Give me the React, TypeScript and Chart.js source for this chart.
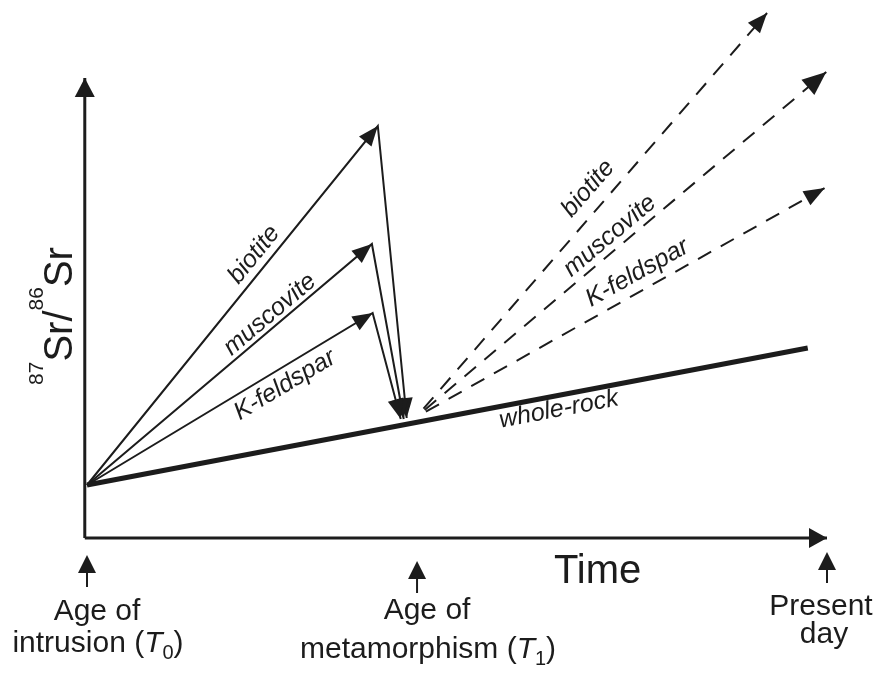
import React, { useEffect, useRef } from "react";
import { Chart, registerables } from "chart.js";

Chart.register(...registerables);

// Time axis: 0 = age of intrusion (T0), 100 = present day. Ratio axis in arbitrary units.
const timeAxis = [{ x: -0.3, y: 0 }, { x: 100, y: 0 }];
const ratioAxis = [{ x: -0.3, y: 0 }, { x: -0.3, y: 92 }];
const wholeRock = [{ x: 0, y: 10.6 }, { x: 97.4, y: 38.0 }];
const biotiteClosed = [{ x: 0, y: 10.6 }, { x: 39.3, y: 82.4 }, { x: 43.2, y: 24.0 }];
const muscoviteClosed = [{ x: 0, y: 10.6 }, { x: 38.5, y: 58.8 }, { x: 42.8, y: 23.8 }];
const kfeldsparClosed = [{ x: 0, y: 10.6 }, { x: 38.6, y: 45.0 }, { x: 42.4, y: 23.8 }];
const biotiteReset = [{ x: 44.5, y: 24.2 }, { x: 91.9, y: 105.0 }];
const muscoviteReset = [{ x: 44.5, y: 24.2 }, { x: 99.9, y: 93.2 }];
const kfeldsparReset = [{ x: 44.5, y: 24.2 }, { x: 99.7, y: 70.0 }];

const markerTimes = [0, 44.6, 100];
const markerLabels = [
  ["Age of", "intrusion (T0)"],
  ["Age of", "metamorphism (T1)"],
  ["Present", "day"],
];
const xTitle = "Time";

const FONT = "'Liberation Sans', Arial, Helvetica, sans-serif";
const INK = "#1c1c1c";

type Part = { text: string; font: string; dy?: number };

function drawParts(ctx: CanvasRenderingContext2D, parts: Part[], cx: number, baseline: number) {
  let total = 0;
  for (const p of parts) {
    ctx.font = p.font;
    total += ctx.measureText(p.text).width;
  }
  let x = cx - total / 2;
  ctx.textAlign = "left";
  ctx.textBaseline = "alphabetic";
  for (const p of parts) {
    ctx.font = p.font;
    ctx.fillText(p.text, x, baseline + (p.dy || 0));
    x += ctx.measureText(p.text).width;
  }
}

function labelParts(line: string, size: number): Part[] {
  const m = line.match(/^(.*)\(T(\d)\)$/);
  if (!m) return [{ text: line, font: `${size}px ${FONT}` }];
  return [
    { text: m[1] + "(", font: `${size}px ${FONT}` },
    { text: "T", font: `italic ${size}px ${FONT}` },
    { text: m[2], font: `${Math.round(size * 0.68)}px ${FONT}`, dy: 7 },
    { text: ")", font: `${size}px ${FONT}` },
  ];
}

const arrowPlugin = {
  id: "arrowHeads",
  afterDatasetsDraw(chart: any) {
    const ctx = chart.ctx;
    chart.data.datasets.forEach((ds: any, i: number) => {
      if (!ds.arrowAt) return;
      const pts = chart.getDatasetMeta(i).data;
      const L = ds.arrowLen || 18;
      const W = ds.arrowHalf || 7;
      ds.arrowAt.forEach((k: number) => {
        const a = pts[k - 1], b = pts[k];
        const ang = Math.atan2(b.y - a.y, b.x - a.x);
        const c = Math.cos(ang), s = Math.sin(ang);
        ctx.save();
        ctx.fillStyle = INK;
        ctx.beginPath();
        ctx.moveTo(b.x, b.y);
        ctx.lineTo(b.x - L * c - W * s, b.y - L * s + W * c);
        ctx.lineTo(b.x - L * c + W * s, b.y - L * s - W * c);
        ctx.closePath();
        ctx.fill();
        ctx.restore();
      });
    });
  },
};

const lineLabelPlugin = {
  id: "lineLabels",
  afterDatasetsDraw(chart: any) {
    const ctx = chart.ctx;
    chart.data.datasets.forEach((ds: any, i: number) => {
      if (!ds.labelPos) return;
      const pts = chart.getDatasetMeta(i).data;
      const { seg, t, off } = ds.labelPos;
      const a = pts[seg], b = pts[seg + 1];
      const ang = Math.atan2(b.y - a.y, b.x - a.x);
      const x = a.x + t * (b.x - a.x) + off * Math.sin(ang);
      const y = a.y + t * (b.y - a.y) - off * Math.cos(ang);
      ctx.save();
      ctx.translate(x, y);
      ctx.rotate(ang);
      ctx.fillStyle = INK;
      ctx.font = `italic 25px ${FONT}`;
      ctx.textAlign = "center";
      ctx.textBaseline = "middle";
      ctx.fillText(ds.label, 0, 0);
      ctx.restore();
    });
  },
};

const annotationPlugin = {
  id: "annotations",
  afterDraw(chart: any) {
    const ctx = chart.ctx;
    const xs = chart.scales.x;
    const ys = chart.scales.y;
    const axisY = ys.getPixelForValue(0);
    ctx.save();
    ctx.fillStyle = INK;
    ctx.strokeStyle = INK;

    // time markers with arrows
    const tipOff = [17, 23, 14];
    const tailOff = [49, 55, 45];
    const base1 = [620, 619, 615];
    const base2 = [652, 658, 643];
    const sizes = [30, 30, 30];
    markerTimes.forEach((tv, i) => {
      const px = xs.getPixelForValue(tv);
      const tip = axisY + tipOff[i];
      const tail = axisY + tailOff[i];
      ctx.lineWidth = 2;
      ctx.beginPath();
      ctx.moveTo(px, tip + 10);
      ctx.lineTo(px, tail);
      ctx.stroke();
      ctx.beginPath();
      ctx.moveTo(px, tip);
      ctx.lineTo(px - 9, tip + 18);
      ctx.lineTo(px + 9, tip + 18);
      ctx.closePath();
      ctx.fill();
      const lines = markerLabels[i];
      drawParts(ctx, labelParts(lines[0], sizes[i]), px + (i === 2 ? -6 : 10), base1[i]);
      drawParts(ctx, labelParts(lines[1], sizes[i]), px + (i === 2 ? -3 : 11), base2[i]);
    });

    // x title
    ctx.font = `40px ${FONT}`;
    ctx.textAlign = "center";
    ctx.textBaseline = "alphabetic";
    ctx.fillText(xTitle, xs.getPixelForValue(69.0), 583);

    // y title: 87Sr/86Sr rotated
    const parts: Part[] = [
      { text: "87", font: `21px ${FONT}`, dy: -29 },
      { text: "Sr/", font: `40px ${FONT}` },
      { text: "86", font: `21px ${FONT}`, dy: -29 },
      { text: "Sr", font: `40px ${FONT}` },
    ];
    ctx.save();
    ctx.translate(72, 316);
    ctx.rotate(-Math.PI / 2);
    drawParts(ctx, parts, 0, 0);
    ctx.restore();
    ctx.restore();
  },
};

export default function App() {
  const ref = useRef<HTMLCanvasElement | null>(null);
  useEffect(() => {
    if (!ref.current) return;
    const solid = (label: string, data: any[], extra: any) => ({
      label,
      data,
      showLine: true,
      borderColor: INK,
      borderWidth: 2,
      pointRadius: 0,
      clip: false,
      ...extra,
    });
    const chart = new Chart(ref.current, {
      type: "scatter",
      data: {
        datasets: [
          solid("timeAxis", timeAxis, { borderWidth: 3, arrowAt: [1], arrowLen: 18, arrowHalf: 10 }),
          solid("ratioAxis", ratioAxis, { borderWidth: 3, arrowAt: [1], arrowLen: 19, arrowHalf: 10 }),
          solid("whole-rock", wholeRock, { borderWidth: 5, labelPos: { seg: 0, t: 0.651, off: -14 } }),
          solid("biotite", biotiteClosed, { arrowAt: [1, 2], arrowLen: 20, arrowHalf: 8, labelPos: { seg: 0, t: 0.615, off: 15 } }),
          solid("muscovite", muscoviteClosed, { arrowAt: [1, 2], arrowLen: 20, arrowHalf: 8, labelPos: { seg: 0, t: 0.669, off: 12 } }),
          solid("K-feldspar", kfeldsparClosed, { arrowAt: [1, 2], arrowLen: 20, arrowHalf: 8, labelPos: { seg: 0, t: 0.663, off: -16.5 } }),
          solid("biotite", biotiteReset, { borderDash: [15, 11], borderDashOffset: 15, arrowAt: [1], arrowLen: 20, arrowHalf: 8, labelPos: { seg: 0, t: 0.533, off: 20 } }),
          solid("muscovite", muscoviteReset, { borderDash: [15, 11], borderDashOffset: 15, arrowAt: [1], arrowLen: 24, arrowHalf: 10, labelPos: { seg: 0, t: 0.494, off: 14 } }),
          solid("K-feldspar", kfeldsparReset, { borderDash: [15, 11], borderDashOffset: 15, arrowAt: [1], arrowLen: 21, arrowHalf: 8, labelPos: { seg: 0, t: 0.562, off: 17.5 } }),
        ],
      },
      options: {
        responsive: false,
        devicePixelRatio: 1,
        animation: false,
        events: [],
        layout: { padding: { left: 87, right: 51, top: 38, bottom: 135 } },
        scales: {
          x: { type: "linear", min: 0, max: 100, display: false },
          y: { type: "linear", min: 0, max: 100, display: false },
        },
        plugins: { legend: { display: false }, tooltip: { enabled: false } },
      },
      plugins: [arrowPlugin, lineLabelPlugin, annotationPlugin],
    } as any);
    return () => chart.destroy();
  }, []);
  return (
    <div style={{ position: "absolute", left: 0, top: 0, width: 878, height: 673, background: "#fff" }}>
      <canvas ref={ref} width={878} height={673} style={{ width: 878, height: 673, display: "block" }} />
    </div>
  );
}
